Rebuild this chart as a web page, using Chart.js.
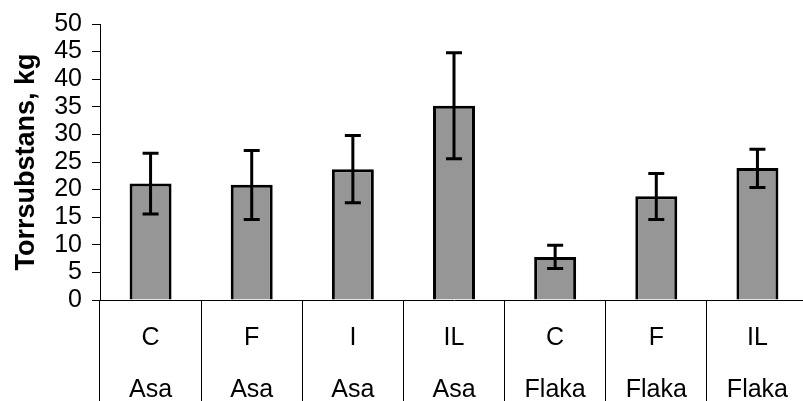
<!DOCTYPE html>
<html>
<head>
<meta charset="utf-8">
<script src="https://cdn.jsdelivr.net/npm/chart.js@4.4.1/dist/chart.umd.min.js"></script>
<style>
  html, body { margin: 0; padding: 0; background: #fff; overflow: hidden; }
  #wrap { width: 808px; height: 401px; }
</style>
</head>
<body>
<div id="wrap"><canvas id="chart"></canvas></div>
<script>
// values
const treatments = ['C', 'F', 'I', 'IL', 'C', 'F', 'IL'];
const sites = ['Asa', 'Asa', 'Asa', 'Asa', 'Flaka', 'Flaka', 'Flaka'];
const means = [21.1, 20.9, 23.7, 35.2, 7.8, 18.8, 23.9];
const errLow = [15.6, 14.6, 17.6, 25.6, 5.7, 14.6, 20.4];
const errHigh = [26.6, 27.1, 29.8, 44.8, 9.9, 22.9, 27.3];
const yMin = 0, yMax = 50, yStep = 5;

Chart.defaults.font.family = "'Liberation Sans', Arial, sans-serif";
Chart.defaults.color = '#000';

// error bars with caps, drawn on top of the bars
const errorBars = {
  id: 'errorBars',
  afterDatasetsDraw(chart) {
    const { ctx, scales: { y } } = chart;
    const meta = chart.getDatasetMeta(0);
    ctx.save();
    ctx.strokeStyle = '#000';
    ctx.lineWidth = 3;
    meta.data.forEach((bar, i) => {
      const top = y.getPixelForValue(errHigh[i]);
      const bottom = y.getPixelForValue(errLow[i]);
      ctx.beginPath();
      ctx.moveTo(bar.x, top);
      ctx.lineTo(bar.x, bottom);
      ctx.moveTo(bar.x - 8, top);
      ctx.lineTo(bar.x + 8, top);
      ctx.moveTo(bar.x - 8, bottom);
      ctx.lineTo(bar.x + 8, bottom);
      ctx.stroke();
    });
    ctx.restore();
  }
};

new Chart(document.getElementById('chart'), {
  type: 'bar',
  data: {
    labels: treatments.map((t, i) => [t, sites[i]]),
    datasets: [{
      data: means,
      backgroundColor: '#969696',
      borderColor: '#000',
      borderWidth: 3,
      categoryPercentage: 1,
      barPercentage: 0.415
    }]
  },
  options: {
    responsive: true,
    maintainAspectRatio: false,
    animation: false,
    layout: { padding: { top: 24, right: 0, bottom: 0, left: 0 } },
    plugins: {
      legend: { display: false },
      tooltip: { enabled: false }
    },
    scales: {
      x: {
        grid: {
          offset: true,
          drawOnChartArea: false,
          drawTicks: true,
          tickLength: 110,
          color: '#000',
          lineWidth: 1
        },
        border: { color: '#000', width: 1 },
        ticks: {
          autoSkip: false,
          maxRotation: 0,
          padding: -98,
          font: { size: 25, lineHeight: 52 / 25 }
        },
        afterFit(scale) { scale.height = 101; }
      },
      y: {
        min: yMin,
        max: yMax,
        grid: {
          drawOnChartArea: false,
          tickLength: 8,
          color: '#000'
        },
        border: { color: '#000', width: 1 },
        ticks: {
          stepSize: yStep,
          autoSkip: false,
          padding: 10,
          font: { size: 25, lineHeight: 1 }
        },
        title: {
          display: true,
          text: 'Torrsubstans, kg',
          font: { size: 27, weight: 'bold' },
          padding: { top: 10, bottom: 0 }
        },
        afterFit(scale) { scale.width = 100; }
      }
    }
  },
  plugins: [errorBars]
});
</script>
</body>
</html>
